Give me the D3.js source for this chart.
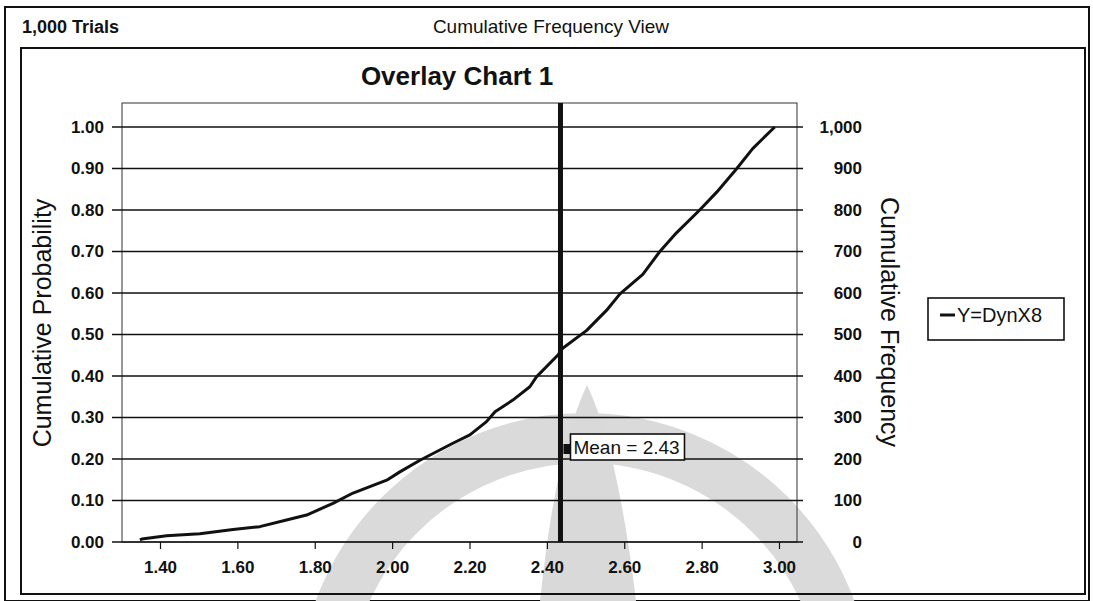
<!DOCTYPE html>
<html>
<head>
<meta charset="utf-8">
<script src="https://cdn.jsdelivr.net/npm/d3@7/dist/d3.min.js"></script>
<style>
html,body{margin:0;padding:0;background:#fff;}
svg{display:block;font-family:"Liberation Sans",Arial,sans-serif;}
</style>
</head>
<body>
<svg id="chart" width="1093" height="601"></svg>
<script>
// ---- data ----
const cumX = [1.348,1.353,1.417,1.503,1.589,1.658,1.727,1.779,1.847,1.899,1.986,2.020,2.072,2.157,2.201,2.244,2.266,2.312,2.356,2.373,2.428,2.441,2.503,2.554,2.589,2.648,2.692,2.735,2.795,2.839,2.891,2.932,2.989];
const cumP = [0.005,0.007,0.015,0.020,0.030,0.037,0.053,0.065,0.093,0.118,0.149,0.169,0.197,0.238,0.258,0.290,0.314,0.342,0.374,0.398,0.450,0.467,0.510,0.558,0.598,0.645,0.700,0.745,0.800,0.843,0.900,0.948,1.000];
const xTicks = [1.40,1.60,1.80,2.00,2.20,2.40,2.60,2.80,3.00];
const yTicks = [0,0.1,0.2,0.3,0.4,0.5,0.6,0.7,0.8,0.9,1.0];
const freqTicks = [0,100,200,300,400,500,600,700,800,900,1000];
const meanValue = 2.43;
const trials = 1000;
const seriesName = "Y=DynX8";

const svg = d3.select("#chart");
const plot = {left:122, right:797, top:103, bottom:542};

// frames
svg.append("rect").attr("x",5).attr("y",7).attr("width",1084).attr("height",594)
  .attr("fill","#fff").attr("stroke","#111").attr("stroke-width",2);

// faint background watermark (scanned page logo)
const wm = svg.append("g").attr("fill","#d9d9d9").attr("stroke","none");
wm.append("circle").attr("cx",585).attr("cy",700).attr("r",262)
  .attr("fill","none").attr("stroke","#dadada").attr("stroke-width",50);
wm.append("path").attr("d","M587,385 Q556,450 540,601 L636,601 Q618,450 587,385 Z");

svg.append("rect").attr("x",21).attr("y",48).attr("width",1064).attr("height",546)
  .attr("fill","none").attr("stroke","#111").attr("stroke-width",2);

// header
svg.append("text").attr("x",22).attr("y",33).attr("font-size",18).attr("font-weight","bold")
  .attr("fill","#111").text(d3.format(",")(trials) + " Trials");
svg.append("text").attr("x",551).attr("y",33).attr("text-anchor","middle").attr("font-size",19)
  .attr("fill","#111").text("Cumulative Frequency View");
svg.append("text").attr("x",457).attr("y",85).attr("text-anchor","middle").attr("font-size",26)
  .attr("font-weight","bold").attr("fill","#111").text("Overlay Chart 1");

// scales
const x = d3.scaleLinear().domain([1.40 - (160-122)/386.9, 3.00 + (797-779)/386.9]).range([plot.left, plot.right]);
const y = d3.scaleLinear().domain([0, (542-103)/415]).range([plot.bottom, plot.top]);
const yF = d3.scaleLinear().domain([0, (542-103)/415*1000]).range([plot.bottom, plot.top]);

// plot frame
svg.append("rect").attr("x",plot.left).attr("y",plot.top)
  .attr("width",plot.right-plot.left).attr("height",plot.bottom-plot.top)
  .attr("fill","none").attr("stroke","#333").attr("stroke-width",1);

// gridlines
svg.append("g").selectAll("line").data(yTicks).join("line")
  .attr("x1",112).attr("x2",803)
  .attr("y1",d=>y(d)).attr("y2",d=>y(d))
  .attr("stroke","#111").attr("stroke-width",1.6);

// left axis labels
const yAxisL = d3.axisLeft(y).tickValues(yTicks).tickFormat(d3.format(".2f")).tickSize(0).tickPadding(0);
const gL = svg.append("g").attr("transform",`translate(104,0)`).call(yAxisL);
gL.select(".domain").remove();
gL.selectAll("text").attr("font-size",17).attr("font-weight","bold").attr("fill","#111")
  .attr("font-family","Liberation Sans, Arial, sans-serif");

// right axis labels
const yAxisR = d3.axisLeft(yF).tickValues(freqTicks).tickFormat(d3.format(",")).tickSize(0).tickPadding(0);
const gR = svg.append("g").attr("transform",`translate(862,0)`).call(yAxisR);
gR.select(".domain").remove();
gR.selectAll("text").attr("font-size",17).attr("font-weight","bold").attr("fill","#111")
  .attr("font-family","Liberation Sans, Arial, sans-serif");

// x axis
const xAxis = d3.axisBottom(x).tickValues(xTicks).tickFormat(d3.format(".2f")).tickSize(7).tickPadding(12);
const gX = svg.append("g").attr("transform",`translate(0,${plot.bottom})`).call(xAxis);
gX.select(".domain").remove();
gX.selectAll("line").attr("stroke","#111").attr("stroke-width",1.2);
gX.selectAll("text").attr("font-size",17).attr("font-weight","bold").attr("fill","#111")
  .attr("font-family","Liberation Sans, Arial, sans-serif");

// axis titles
svg.append("text").attr("transform","translate(51,323) rotate(-90)").attr("text-anchor","middle")
  .attr("font-size",25).attr("fill","#111").text("Cumulative Probability");
svg.append("text").attr("transform","translate(881,322) rotate(90)").attr("text-anchor","middle")
  .attr("font-size",25).attr("fill","#111").text("Cumulative Frequency");

// curve
const pts = cumX.map((v,i)=>[v,cumP[i]]);
svg.append("path").datum(pts)
  .attr("d", d3.line().x(d=>x(d[0])).y(d=>y(d[1])))
  .attr("fill","none").attr("stroke","#111").attr("stroke-width",3).attr("stroke-linejoin","round");

// mean line
const mx = x(meanValue)+2;
svg.append("line").attr("x1",mx).attr("x2",mx)
  .attr("y1",plot.top).attr("y2",plot.bottom)
  .attr("stroke","#111").attr("stroke-width",5);

// mean label
svg.append("rect").attr("x",mx+3).attr("y",444).attr("width",7).attr("height",10).attr("fill","#111");
svg.append("rect").attr("x",mx+10).attr("y",434).attr("width",114).attr("height",26)
  .attr("fill","#fff").attr("stroke","#111").attr("stroke-width",1.6);
svg.append("text").attr("x",mx+13).attr("y",454).attr("font-size",19).attr("fill","#111")
  .text("Mean = " + d3.format(".2f")(meanValue));

// legend
svg.append("rect").attr("x",928).attr("y",298).attr("width",136).attr("height",42)
  .attr("fill","#fff").attr("stroke","#111").attr("stroke-width",1.6);
svg.append("line").attr("x1",940).attr("x2",955).attr("y1",315).attr("y2",315)
  .attr("stroke","#111").attr("stroke-width",3);
svg.append("text").attr("x",957).attr("y",322).attr("font-size",20).attr("fill","#111").text(seriesName);
</script>
</body>
</html>
